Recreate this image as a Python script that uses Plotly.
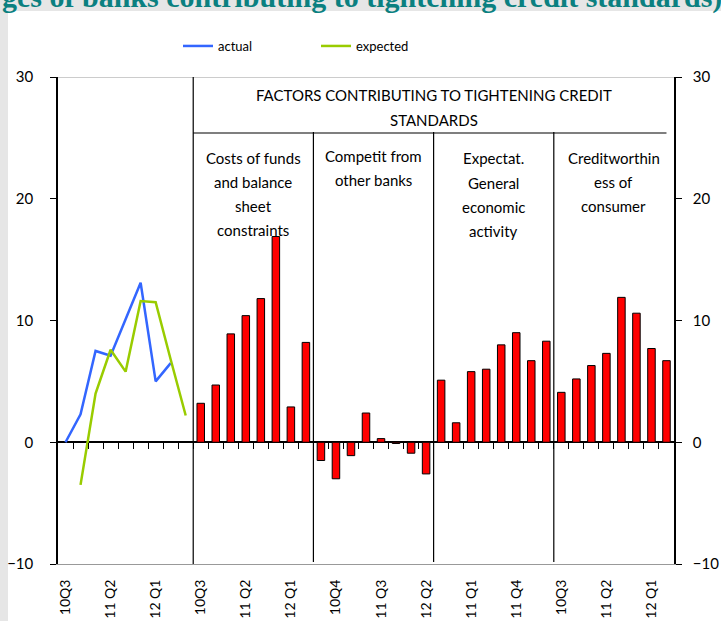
import plotly.graph_objects as go

# ---------------- data ----------------
line_quarters = ["10Q3", "10Q4", "11 Q1", "11 Q2", "11 Q3", "11 Q4", "12 Q1", "12 Q2", "12 Q3"]
bar_quarters = ["10Q3", "10Q4", "11 Q1", "11 Q2", "11 Q3", "11 Q4", "12 Q1", "12 Q2"]

actual = [0.0, 2.3, 7.5, 7.1, 10.1, 13.1, 5.0, 6.5, None]
expected = [None, -3.5, 4.0, 7.6, 5.8, 11.6, 11.5, 6.8, 2.2]

panel_titles = [
    ["Costs of funds", "and balance", "sheet", "constraints"],
    ["Competit from", "other banks"],
    ["Expectat.", "General", "economic", "activity"],
    ["Creditworthin", "ess of", "consumer"],
]
costs_of_funds = [3.2, 4.7, 8.9, 10.4, 11.8, 16.9, 2.9, 8.2]
competition = [-1.5, -3.0, -1.1, 2.4, 0.3, -0.1, -0.9, -2.6]
expectations = [5.1, 1.6, 5.8, 6.0, 8.0, 9.0, 6.7, 8.3]
creditworthiness = [4.1, 5.2, 6.3, 7.3, 11.9, 10.6, 7.7, 6.7]
bar_series = [costs_of_funds, competition, expectations, creditworthiness]

header_lines = ["FACTORS CONTRIBUTING TO TIGHTENING CREDIT", "STANDARDS"]
title_text = "<b>ges of banks contributing to tightening credit standards)</b>"

# ---------------- layout helpers ----------------
W, H = 721, 621
PL, PR, PT, PB = 58, 674, 77, 564        # plot area in pixels
YMIN, YMAX = -10, 30
FONT = "Lato"


def py(p):   # pixel y -> paper
    return (PB - p) / (PB - PT)


def px(p):   # pixel x -> paper
    return (p - PL) / (PR - PL)


def yval(p):  # pixel y -> data y
    return YMAX - (p - PT) / (PB - PT) * (YMAX - YMIN)


all_labels = list(line_quarters)
for _ in bar_series:
    all_labels += bar_quarters
n_cat = len(all_labels)
xr = [-0.5, n_cat - 0.5]

line_x = list(range(len(line_quarters)))
panel_starts = []
s = len(line_quarters)
for ser in bar_series:
    panel_starts.append(s)
    s += len(ser)

fig = go.Figure()

fig.add_trace(go.Scatter(x=line_x, y=actual, mode="lines", name="actual",
                         line=dict(color="#3366FF", width=2.5), connectgaps=False))
fig.add_trace(go.Scatter(x=line_x, y=expected, mode="lines", name="expected",
                         line=dict(color="#99CC00", width=2.5), connectgaps=False))

for st, ser in zip(panel_starts, bar_series):
    fig.add_trace(go.Bar(x=list(range(st, st + len(ser))), y=ser, width=0.5,
                         marker=dict(color="#FF0000", line=dict(color="black", width=1)),
                         showlegend=False, xaxis="x2", yaxis="y2"))

tickvals = list(range(0, n_cat, 3))
ticktext = [all_labels[i] for i in tickvals]

shapes = []
# white chart area over grey page
shapes.append(dict(type="rect", xref="paper", yref="paper", layer="below",
                   x0=px(8), x1=px(W + 5), y0=py(H + 5), y1=py(11),
                   fillcolor="white", line=dict(width=0)))
# top border
shapes.append(dict(type="line", xref="x", yref="y", x0=xr[0], x1=xr[1], y0=YMAX, y1=YMAX,
                   line=dict(color="#999999", width=1)))
# panel dividers
bounds = [st - 0.5 for st in panel_starts]
shapes.append(dict(type="line", xref="x", yref="y", x0=bounds[0], x1=bounds[0],
                   y0=YMAX, y1=yval(572), line=dict(color="black", width=1.2)))
for b in bounds[1:]:
    shapes.append(dict(type="line", xref="x", yref="y", x0=b, x1=b,
                       y0=yval(132), y1=yval(562), line=dict(color="black", width=1.2)))
# header underline
shapes.append(dict(type="line", xref="x", yref="y", x0=bounds[0], x1=n_cat - 1,
                   y0=yval(133), y1=yval(133), line=dict(color="black", width=1.2)))

annotations = []
annotations.append(dict(text=title_text, xref="paper", yref="paper", x=px(0), y=py(16),
                        xanchor="left", yanchor="bottom", showarrow=False,
                        font=dict(family="Liberation Serif", size=30, color="#0B8080"),
                        ))
hdr_center = (bounds[0] + n_cat - 0.5) / 2
for i, t in enumerate(header_lines):
    annotations.append(dict(text=t, xref="x", yref="paper", x=hdr_center, y=py(95 + 24.5 * i),
                            xanchor="center", yanchor="middle", showarrow=False,
                            font=dict(family=FONT, size=15, color="black")))
line_y0 = [157.5, 155.5, 158.5, 157.5]
for k, (st, ser, lines) in enumerate(zip(panel_starts, bar_series, panel_titles)):
    cx = st + (len(ser) - 1) / 2
    for i, t in enumerate(lines):
        annotations.append(dict(text=t, xref="x", yref="paper", x=cx,
                                y=py(line_y0[k] + 24.3 * i),
                                xanchor="center", yanchor="middle", showarrow=False,
                                font=dict(family=FONT, size=15, color="black")))

fig.update_layout(
    width=W, height=H,
    margin=dict(l=PL, r=W - PR, t=PT, b=H - PB),
    paper_bgcolor="#E6E6E6", plot_bgcolor="white",
    template="none",
    font=dict(family=FONT, size=15, color="black"),
    showlegend=True,
    legend=dict(orientation="h", x=px(178), y=py(46), xanchor="left", yanchor="middle",
                font=dict(family=FONT, size=13, color="black"),
                bgcolor="rgba(0,0,0,0)", entrywidth=93, entrywidthmode="pixels",
                traceorder="normal"),
    bargap=0.5,
    xaxis=dict(range=xr, tickmode="array", tickvals=tickvals, ticktext=ticktext,
               tickangle=-90, ticks="", showgrid=False, zeroline=False,
               showline=True, linecolor="#999999", linewidth=1,
               ticklabelstandoff=9, tickfont=dict(family=FONT, size=14)),
    xaxis2=dict(range=xr, overlaying="x", anchor="free", position=(0 - YMIN) / (YMAX - YMIN),
                tickmode="array", tickvals=[i + 0.5 for i in range(n_cat - 1)],
                ticks="outside", ticklen=6, tickcolor="black", tickwidth=1.2,
                showticklabels=False, showgrid=False, zeroline=False, showline=False),
    yaxis=dict(range=[YMIN, YMAX], dtick=10, tick0=0, ticks="outside", ticklen=6,
               tickcolor="black", showline=True, linecolor="black", linewidth=1.5,
               showgrid=False, zeroline=True, zerolinecolor="black", zerolinewidth=1.5,
               ticklabelstandoff=14, tickfont=dict(family=FONT, size=15)),
    yaxis2=dict(range=[YMIN, YMAX], dtick=10, tick0=0, overlaying="y", side="right",
                anchor="x", ticks="outside", ticklen=6, tickcolor="black",
                showline=True, linecolor="black", linewidth=1.5, showgrid=False,
                zeroline=False, ticklabelstandoff=8, tickfont=dict(family=FONT, size=15)),
    shapes=shapes,
    annotations=annotations,
)

fig.write_html(
    "out.html",
    config={"displayModeBar": False},
    post_script="document.body.style.margin='0';document.body.style.overflow='hidden';"
                "document.body.style.background='#E6E6E6';",
)
